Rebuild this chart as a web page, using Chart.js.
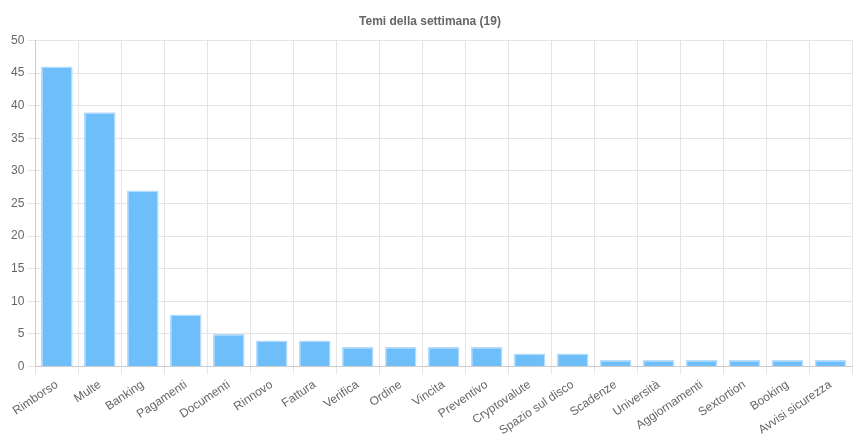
<!DOCTYPE html>
<html><head><meta charset="utf-8">
<script src="https://cdn.jsdelivr.net/npm/chart.js@4/dist/chart.umd.min.js"></script>
<style>html,body{margin:0;padding:0;background:#fff}#wrap{width:860px;height:443px}</style>
</head><body><div id="wrap"><canvas id="c"></canvas></div>
<script>
const categories = ["Rimborso","Multe","Banking","Pagamenti","Documenti","Rinnovo","Fattura","Verifica","Ordine","Vincita","Preventivo","Cryptovalute","Spazio sul disco","Scadenze","Università","Aggiornamenti","Sextortion","Booking","Avvisi sicurezza"];
const values = [46,39,27,8,5,4,4,3,3,3,3,2,2,1,1,1,1,1,1];
const chartTitle = "Temi della settimana (19)";
Chart.defaults.font.family = "'Liberation Sans', Arial, sans-serif";
Chart.defaults.color = '#666';
new Chart(document.getElementById('c'), {
  type: 'bar',
  data: { labels: categories, datasets: [{ data: values, backgroundColor: '#6ebefa', borderColor: '#b5dcfb', borderWidth: 1.5, categoryPercentage: 0.8, barPercentage: 0.92 }] },
  options: {
    responsive: true, maintainAspectRatio: false, animation: false,
    layout: { padding: { left: 8, right: 8, top: 0, bottom: 2 } },
    plugins: { legend: { display: false }, tooltip: { enabled: false },
      title: { display: true, text: chartTitle, color: '#666', font: { size: 12, weight: 'bold' }, padding: { top: 14, bottom: 12 } } },
    scales: {
      x: { grid: { color: '#e5e5e5', tickLength: 8 }, border: { color: '#ccc' }, ticks: { font: { size: 12 }, minRotation: 34, maxRotation: 34, color: '#666' } },
      y: { min: 0, max: 50, grid: { color: '#e5e5e5', tickLength: 8 }, border: { color: '#ccc' }, ticks: { stepSize: 5, font: { size: 12 }, color: '#666' } }
    }
  }
});
</script></body></html>
